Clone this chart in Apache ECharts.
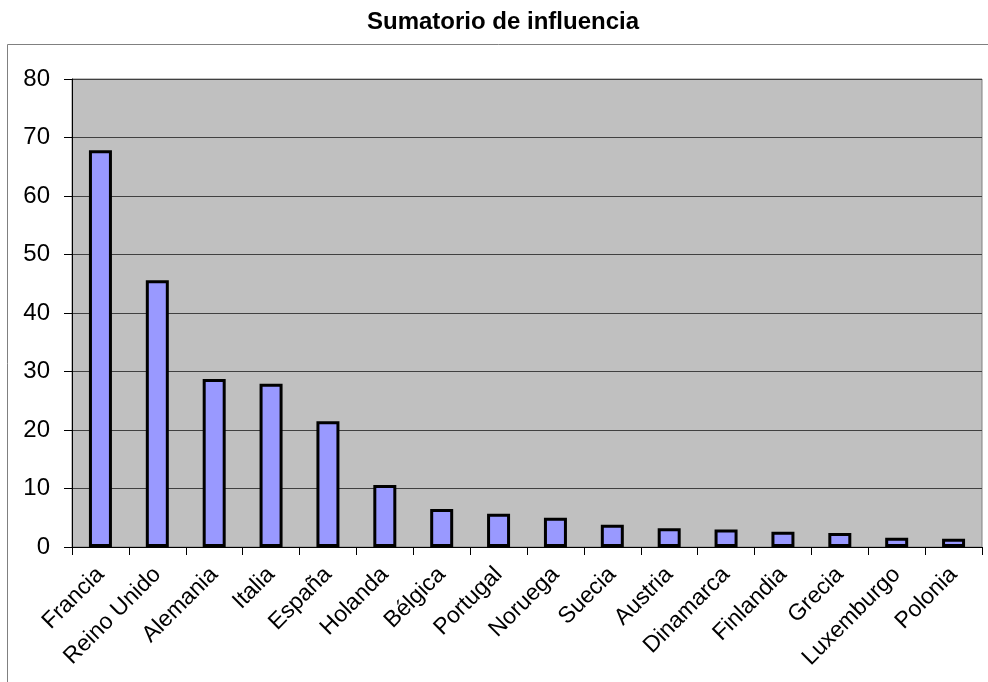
<!DOCTYPE html>
<html>
<head>
<meta charset="utf-8">
<script src="https://cdn.jsdelivr.net/npm/echarts@6/dist/echarts.min.js"></script>
<style>
    html, body { margin: 0; padding: 0; background: #ffffff; }
    #chart { width: 988px; height: 682px; }
</style>
</head>
<body>
<div id="chart"></div>
<script>
// 国家
const paises = ['Francia', 'Reino Unido', 'Alemania', 'Italia', 'España', 'Holanda', 'Bélgica', 'Portugal',
    'Noruega', 'Suecia', 'Austria', 'Dinamarca', 'Finlandia', 'Grecia', 'Luxemburgo', 'Polonia'];
// 影响力总和
const influencia = [67.8, 45.6, 28.7, 27.9, 21.5, 10.6, 6.5, 5.7, 5.0, 3.8, 3.2, 3.0, 2.6, 2.4, 1.6, 1.4];
const yMin = 0;
const yMax = 80;
const yStep = 10;

const fuente = '"Liberation Sans", Arial, sans-serif';

const eChart = echarts.init(document.getElementById('chart'));
const option = {
    animation: false,
    title: {
        text: 'Sumatorio de influencia',
        left: 362,
        top: 5,
        textStyle: {
            fontFamily: fuente,
            fontSize: 24,
            fontWeight: 'bold',
            color: '#000000'
        }
    },
    graphic: [
        {
            // 外框
            type: 'rect',
            shape: { x: 7.5, y: 44.5, width: 1200, height: 900 },
            style: { fill: 'none', stroke: '#808080', lineWidth: 1 },
            silent: true,
            z: -1
        }
    ],
    grid: {
        left: 72,
        right: 6,
        top: 79,
        bottom: 135,
        show: true,
        backgroundColor: '#C0C0C0',
        borderColor: '#808080',
        borderWidth: 1
    },
    xAxis: {
        type: 'category',
        data: paises,
        axisLine: { lineStyle: { color: '#000000', width: 1 } },
        axisTick: { show: true, length: 8, lineStyle: { color: '#000000' } },
        axisLabel: {
            interval: 0,
            rotate: 45,
            margin: 24,
            fontFamily: fuente,
            fontSize: 23,
            color: '#000000'
        }
    },
    yAxis: {
        type: 'value',
        min: yMin,
        max: yMax,
        interval: yStep,
        axisLine: { show: true, lineStyle: { color: '#000000', width: 1 } },
        axisTick: { show: true, length: 8, lineStyle: { color: '#000000' } },
        axisLabel: {
            margin: 22,
            fontFamily: fuente,
            fontSize: 24,
            color: '#000000'
        },
        splitLine: {
            show: true,
            lineStyle: { color: '#404040', width: 1, type: 'solid' }
        }
    },
    series: [
        {
            type: 'bar',
            data: influencia,
            barWidth: 23,
            itemStyle: {
                color: '#9999FF',
                borderColor: '#000000',
                borderWidth: 3
            }
        }
    ]
};
eChart.setOption(option);
</script>
</body>
</html>
